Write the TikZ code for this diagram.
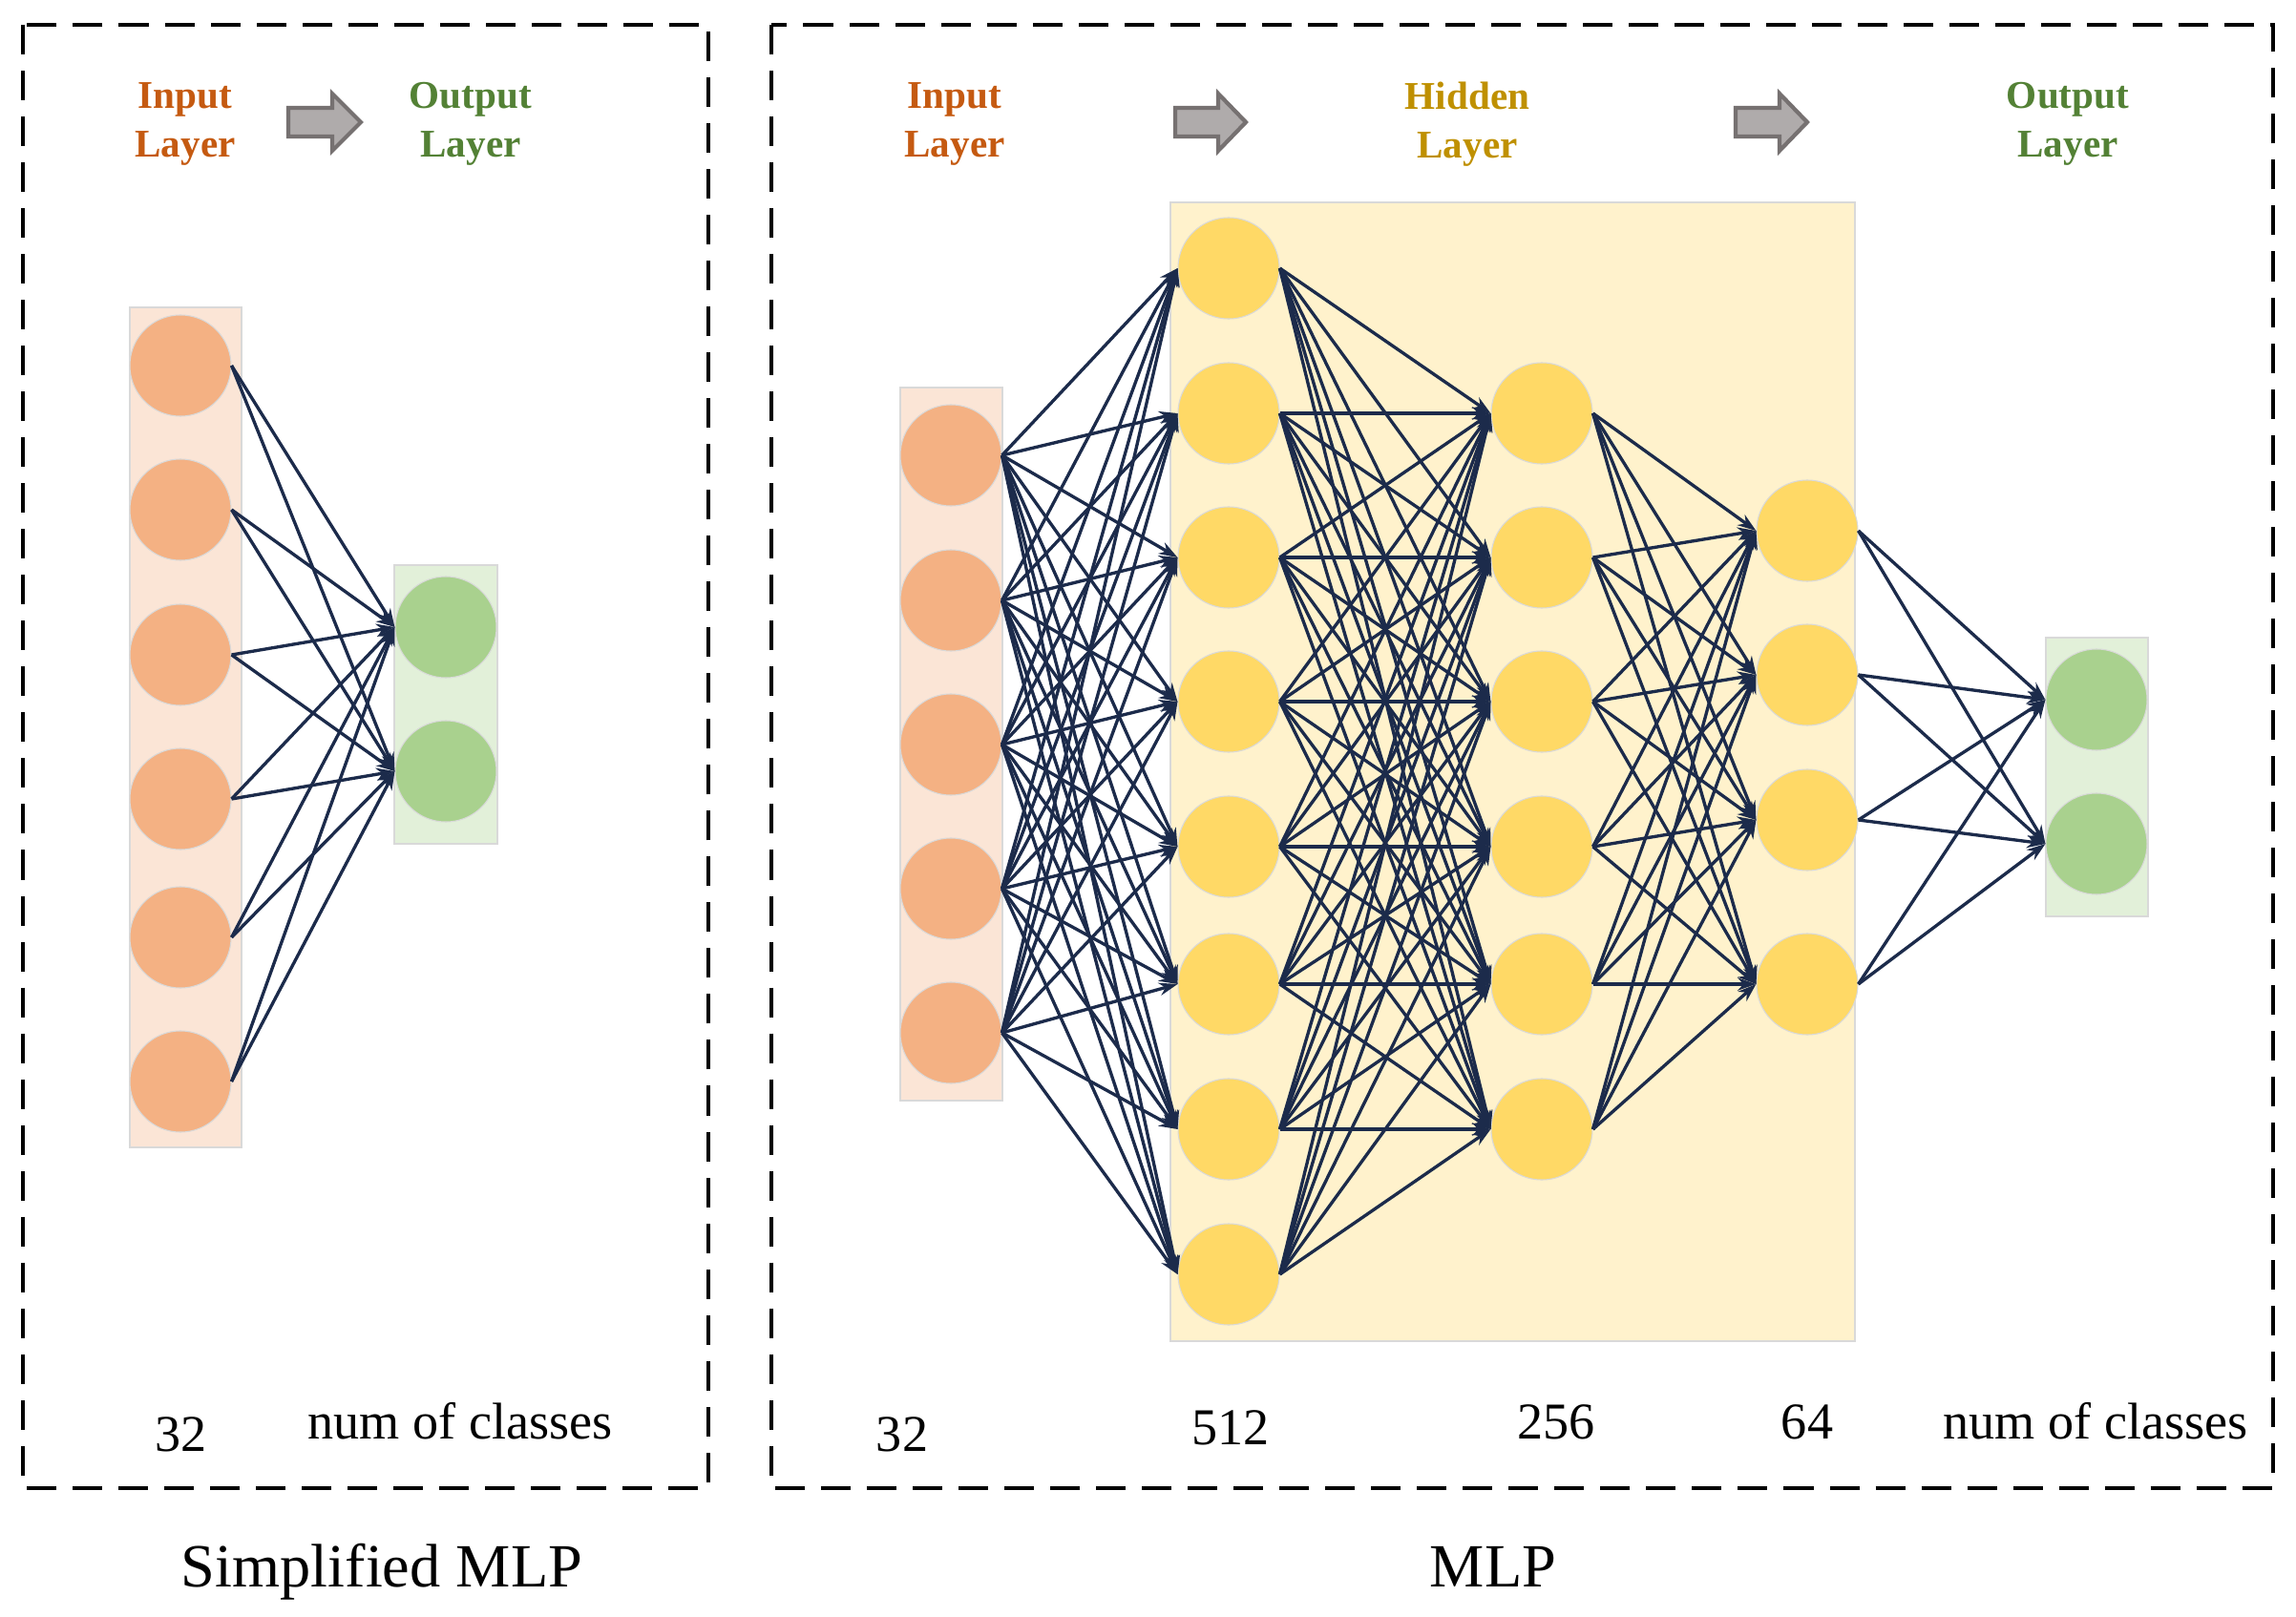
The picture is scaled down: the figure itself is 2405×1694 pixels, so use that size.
\documentclass[tikz,border=0pt]{standalone}
\usepackage{fontspec}
\setmainfont{Liberation Serif}
\usetikzlibrary{arrows.meta}
\definecolor{inC}{HTML}{F4B183}
\definecolor{inBg}{HTML}{FBE5D6}
\definecolor{hidC}{HTML}{FFD966}
\definecolor{hidBg}{HTML}{FFF2CC}
\definecolor{outC}{HTML}{A9D18E}
\definecolor{outBg}{HTML}{E2F0D9}
\definecolor{inT}{HTML}{C55A11}
\definecolor{hidT}{HTML}{BF9000}
\definecolor{outT}{HTML}{538135}
\definecolor{edgeC}{HTML}{1C2B4B}
\definecolor{arrFill}{HTML}{AFABAB}
\definecolor{arrDraw}{HTML}{767171}
\begin{document}
\begin{tikzpicture}[x=0.01cm,y=-0.01cm,
  neuron/.style={circle, minimum size=1.06cm, inner sep=0pt, draw=black!15, line width=0.3pt},
  bgrect/.style={draw=black!15, line width=0.4pt},
  conn/.style={draw=edgeC, line width=0.95pt, -{Stealth[length=5.5pt,width=3.8pt]}},
  panel/.style={draw=black, line width=1.15pt, dash pattern=on 0.31cm off 0.17cm},
  blockarrow/.style={fill=arrFill, draw=arrDraw, line width=1.2pt},
  lbl/.style={font=\fontsize{11.7}{14.5}\selectfont\bfseries, align=center, inner sep=0pt},
  num/.style={font=\fontsize{15.4}{18}\selectfont, inner sep=0pt, anchor=base},
  captxt/.style={font=\fontsize{18.3}{22}\selectfont, inner sep=0pt, anchor=base}
]
\useasboundingbox (0,0) rectangle (2405,1694);

% panels
\draw[panel] (24,26) rectangle (742,1559);
\draw[panel] (808,26) rectangle (2381,1559);

% backgrounds
\fill[inBg, bgrect] (136,322) rectangle (253,1202);
\fill[outBg, bgrect] (413,592) rectangle (521,884);
\fill[inBg, bgrect] (943,406) rectangle (1050,1153);
\fill[hidBg, bgrect] (1226,212) rectangle (1943,1405);
\fill[outBg, bgrect] (2143,668) rectangle (2250,960);

% layer labels
\node[lbl, text=inT] (tl1) at (194,130) {Input\\Layer};
\node[lbl, text=outT] (tl2) at (493,130) {Output\\Layer};
\node[lbl, text=inT] (tr1) at (1000,130) {Input\\Layer};
\node[lbl, text=hidT] (tr2) at (1537,130) {Hidden\\Layer};
\node[lbl, text=outT] (tr3) at (2166,130) {Output\\Layer};

% block arrows
\draw[blockarrow] (302,113) -- (348,113) -- (348,98) -- (378,128) -- (348,158) -- (348,143) -- (302,143) -- cycle;
\draw[blockarrow] (1231,113) -- (1276,113) -- (1276,98) -- (1305,128) -- (1276,158) -- (1276,143) -- (1231,143) -- cycle;
\draw[blockarrow] (1818,113) -- (1864,113) -- (1864,98) -- (1893,128) -- (1864,158) -- (1864,143) -- (1818,143) -- cycle;

% simplified MLP neurons
\foreach \y [count=\i] in {383,534,686,837,982,1133}
  \node[neuron, fill=inC] (p\i) at (189,\y) {};
\foreach \y [count=\i] in {657,808}
  \node[neuron, fill=outC] (q\i) at (467,\y) {};

% MLP neurons
\foreach \y [count=\i] in {477,629,780,931,1082}
  \node[neuron, fill=inC] (a\i) at (996,\y) {};
\foreach \y [count=\i] in {281,433,584,735,887,1031,1183,1335}
  \node[neuron, fill=hidC] (b\i) at (1287,\y) {};
\foreach \y [count=\i] in {433,584,735,887,1031,1183}
  \node[neuron, fill=hidC] (c\i) at (1615,\y) {};
\foreach \y [count=\i] in {556,707,859,1031}
  \node[neuron, fill=hidC] (d\i) at (1893,\y) {};
\foreach \y [count=\i] in {733,884}
  \node[neuron, fill=outC] (e\i) at (2196,\y) {};

% connections
\foreach \i in {1,...,6} \foreach \j in {1,2} \draw[conn] (p\i.east) -- (q\j.west);
\foreach \i in {1,...,5} \foreach \j in {1,...,8} \draw[conn] (a\i.east) -- (b\j.west);
\foreach \i in {1,...,8} \foreach \j in {1,...,6} \draw[conn] (b\i.east) -- (c\j.west);
\foreach \i in {1,...,6} \foreach \j in {1,...,4} \draw[conn] (c\i.east) -- (d\j.west);
\foreach \i in {1,...,4} \foreach \j in {1,2} \draw[conn] (d\i.east) -- (e\j.west);

% sizes
\node[num] (s1) at (190,1520) {32};
\node[num] (s2) at (482,1507) {num of classes};
\node[num] (s3) at (945,1520) {32};
\node[num] (s4) at (1289,1513) {512};
\node[num] (s5) at (1630,1507) {256};
\node[num] (s6) at (1893,1507) {64};
\node[num] (s7) at (2195,1507) {num of classes};

% captions
\node[captxt] (k1) at (400,1662) {Simplified MLP};
\node[captxt] (k2) at (1564,1662) {MLP};
\end{tikzpicture}
\end{document}
